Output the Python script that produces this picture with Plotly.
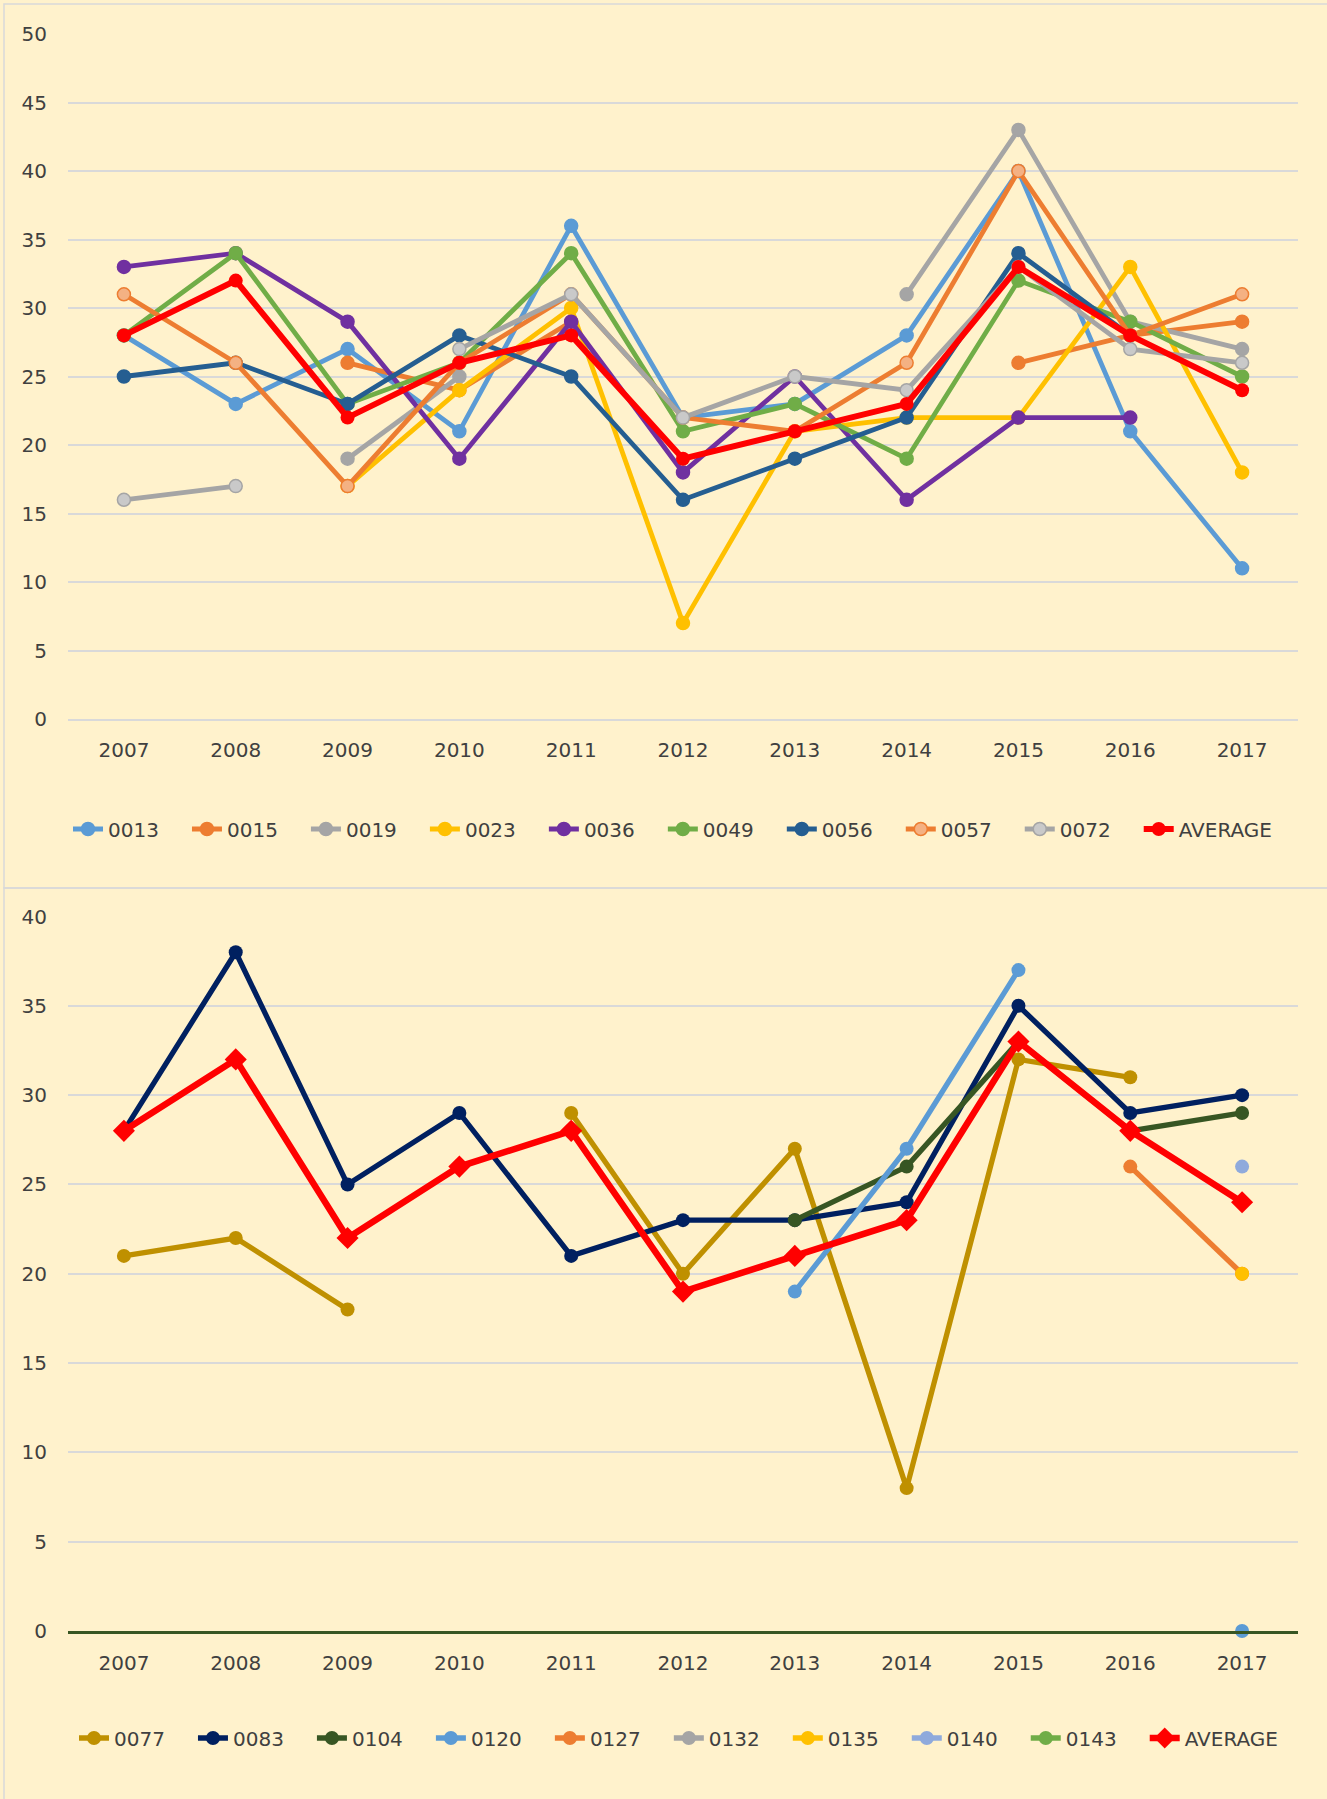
import plotly.graph_objects as go

years = ["2007", "2008", "2009", "2010", "2011", "2012", "2013", "2014", "2015", "2016", "2017"]

# top chart
s0013 = [28, 23, 27, 21, 36, 22, 23, 28, 40, 21, 11]
s0015 = [None, None, 26, 24, 29, None, None, None, 26, 28, 29]
s0019 = [None, None, 19, 25, None, None, None, 31, 43, 29, 27]
s0023 = [None, None, 17, 24, 30, 7, 21, 22, 22, 33, 18]
s0036 = [33, 34, 29, 19, 29, 18, 25, 16, 22, 22, None]
s0049 = [28, 34, 23, 26, 34, 21, 23, 19, 32, 29, 25]
s0056 = [25, 26, 23, 28, 25, 16, 19, 22, 34, 28, None]
s0057 = [31, 26, 17, 26, 31, 22, 21, 26, 40, 28, 31]
s0072 = [16, 17, None, 27, 31, 22, 25, 24, 33, 27, 26]
avg_top = [28, 32, 22, 26, 28, 19, 21, 23, 33, 28, 24]

# bottom chart
s0077 = [21, 22, 18, None, 29, 20, 27, 8, 32, 31, None]
s0083 = [28, 38, 25, 29, 21, 23, 23, 24, 35, 29, 30]
s0104 = [None, None, None, None, None, None, 23, 26, 33, 28, 29]
s0120 = [None, None, None, None, None, None, 19, 27, 37, None, 0]
s0127 = [None, None, None, None, None, None, None, None, None, 26, 20]
s0132 = [None] * 11
s0135 = [None, None, None, None, None, None, None, None, None, None, 20]
s0140 = [None, None, None, None, None, None, None, None, None, None, 26]
s0143 = [None, None, None, None, None, None, None, None, None, None, 24]
avg_bottom = [28, 32, 22, 26, 28, 19, 21, 23, 33, 28, 24]

top = [
    ("0013", s0013, "#5B9BD5", "#5B9BD5"),
    ("0015", s0015, "#ED7D31", "#ED7D31"),
    ("0019", s0019, "#A5A5A5", "#A5A5A5"),
    ("0023", s0023, "#FFC000", "#FFC000"),
    ("0036", s0036, "#7030A0", "#7030A0"),
    ("0049", s0049, "#70AD47", "#70AD47"),
    ("0056", s0056, "#255E91", "#255E91"),
    ("0057", s0057, "#ED7D31", "#F4B183"),
    ("0072", s0072, "#A5A5A5", "#C9C9C9"),
]
bottom = [
    ("0077", s0077, "#BF9000"),
    ("0083", s0083, "#002060"),
    ("0104", s0104, "#375623"),
    ("0120", s0120, "#5B9BD5"),
    ("0127", s0127, "#ED7D31"),
    ("0132", s0132, "#A5A5A5"),
    ("0135", s0135, "#FFC000"),
    ("0140", s0140, "#8FAADC"),
    ("0143", s0143, "#70AD47"),
]

W, H = 1327, 1799
L, R, T, B = 68, 29, 34, 168
pw, ph = W - L - R, H - T - B

# padding after legend labels so entries sit ~120px apart like the original
PAD = "\u00a0\u00a0\u00a0\u2009"


def px_x(x):
    return (x - L) / pw


def px_y(y):
    return (H - B - y) / ph


fig = go.Figure()

for name, vals, col, fill in top:
    fig.add_trace(go.Scatter(
        x=years, y=vals, name=name + PAD, mode="lines+markers",
        line=dict(color=col, width=4.8),
        marker=dict(size=13, color=fill, line=dict(color=col, width=1.5)),
        xaxis="x", yaxis="y", legend="legend"))
fig.add_trace(go.Scatter(
    x=years, y=avg_top, name="AVERAGE", mode="lines+markers",
    line=dict(color="#FF0000", width=6),
    marker=dict(size=14, color="#FF0000"),
    xaxis="x", yaxis="y", legend="legend"))

for name, vals, col in bottom:
    fig.add_trace(go.Scatter(
        x=years, y=vals, name=name + PAD, mode="lines+markers",
        line=dict(color=col, width=5.3),
        marker=dict(size=14, color=col), cliponaxis=False,
        xaxis="x2", yaxis="y2", legend="legend2"))
fig.add_trace(go.Scatter(
    x=years, y=avg_bottom, name="AVERAGE", mode="lines+markers",
    line=dict(color="#FF0000", width=6.5),
    marker=dict(size=17, color="#FF0000", symbol="diamond"), cliponaxis=False,
    xaxis="x2", yaxis="y2", legend="legend2"))

font = dict(family="DejaVu Sans", size=20, color="#404040")
xcommon = dict(type="category", range=[-0.5, 10.5], showgrid=False, ticks="",
               tickfont=font, ticklabelstandoff=12, fixedrange=True)
ycommon = dict(dtick=5, showgrid=True, gridcolor="#D9D9D9", gridwidth=2,
               zeroline=False, ticks="", tickfont=font, ticklabelstandoff=20)
legcommon = dict(orientation="h", xanchor="left", yanchor="middle",
                 font=font, bgcolor="rgba(0,0,0,0)", itemwidth=30)

top_y0 = px_y(719)
bot_y1 = px_y(916.5)

fig.update_layout(
    width=W, height=H,
    margin=dict(l=L, r=R, t=T, b=B),
    paper_bgcolor="#FFF2CC", plot_bgcolor="#FFF2CC",
    font=font,
    xaxis=dict(xcommon, domain=[0, 1], anchor="y", showline=True,
               linecolor="#D9D9D9", linewidth=2),
    yaxis=dict(ycommon, domain=[top_y0, 1], range=[0, 50], anchor="x"),
    xaxis2=dict(xcommon, domain=[0, 1], anchor="y2", showline=True,
                linecolor="#375623", linewidth=3),
    yaxis2=dict(ycommon, domain=[0, bot_y1], range=[0, 40], anchor="x2"),
    legend=dict(legcommon, x=0, y=px_y(829)),
    legend2=dict(legcommon, x=px_x(74), y=px_y(1738)),
    shapes=[
        dict(type="rect", xref="paper", yref="paper", layer="below",
             x0=px_x(4), x1=px_x(1340), y0=px_y(4), y1=px_y(888),
             line=dict(color="#D9D9D9", width=1.5)),
        dict(type="rect", xref="paper", yref="paper", layer="below",
             x0=px_x(4), x1=px_x(1340), y0=px_y(888), y1=px_y(1815),
             line=dict(color="#D9D9D9", width=1.5)),
    ],
)

fig.write_html("out.html", config={"displayModeBar": False},
               post_script="document.body.style.margin = '0px';")
